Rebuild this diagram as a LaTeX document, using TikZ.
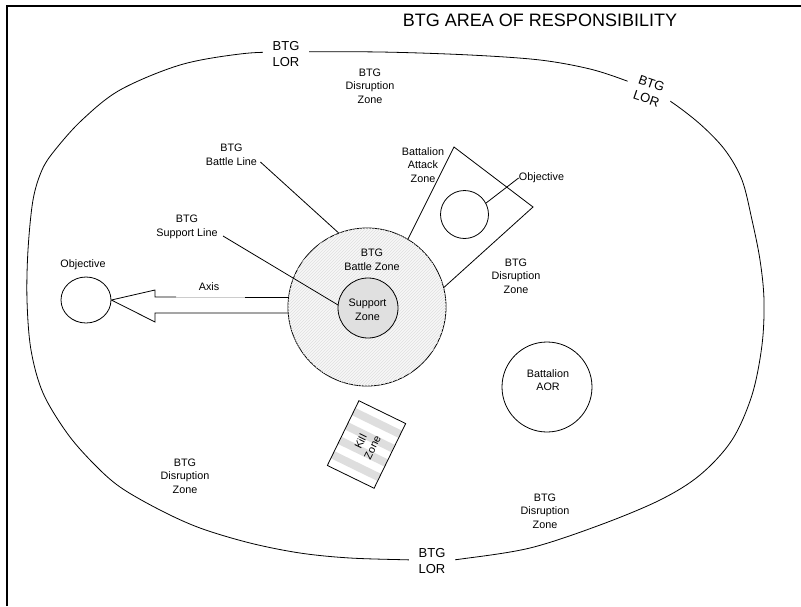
\documentclass[tikz,border=0pt]{standalone}
\usepackage{fontspec}
\setmainfont{Liberation Sans}
\usetikzlibrary{calc,patterns,shapes.geometric}
\begin{document}
\begin{tikzpicture}[x=1pt,y=-1pt, line width=0.8pt,
  lbl/.style={font=\fontsize{10.8}{13.5}\selectfont, align=center, inner sep=0pt},
  lor/.style={font=\fontsize{13}{16}\selectfont, align=center, fill=white, inner xsep=10pt, inner ysep=1pt},
  zone/.style={circle, draw, inner sep=0pt},
  stripe/.style={fill=black!13}
]
\useasboundingbox (0,0) rectangle (801,606);
% frame
\draw[line width=2pt] (7,606) -- (7,6) -- (801,6);
% title
\node[font=\fontsize{18}{20}\selectfont, inner sep=0pt] (title) at (540,20) {BTG AREA OF RESPONSIBILITY};
% outline of the area
\draw plot[smooth cycle, tension=0.55] coordinates {
 (286,52) (380,52) (470,55) (540,60) (590,69) (627,81) (650,91) (670,101)
 (700,124) (725,150) (742,180) (752,220) (760,260) (764,300) (762,345)
 (752,395) (732,440) (700,475) (660,500) (600,525) (530,548) (461,559)
 (437,561) (413,560) (350,558) (300,553) (250,543) (200,528) (160,510)
 (120,487) (93,463) (67,433) (43,393) (31,350) (27,300) (28,250) (33,200)
 (42,170) (55,150) (82,120) (120,90) (180,65) (240,54)};
\node[lor] (lor1) at (286,54) {BTG\\LOR};
\node[lor, rotate=-19] (lor2) at (649,91) {BTG\\LOR};
\node[lor] (lor3) at (432,561) {BTG\\LOR};
% disruption zones
\node[lbl] (dz1) at (370,86) {BTG\\Disruption\\Zone};
\node[lbl] (dz2) at (516,276) {BTG\\Disruption\\Zone};
\node[lbl] (dz3) at (185,476) {BTG\\Disruption\\Zone};
\node[lbl] (dz4) at (545,511) {BTG\\Disruption\\Zone};
% axis arrow and left objective
\node[ellipse, draw, minimum width=50, minimum height=46, inner sep=0pt] (lo) at (86,300) {};
\node[lbl] (lot) at (83,265) {Objective};
\coordinate (h1) at (155,290);
\coordinate (h2) at (155,297);
\coordinate (h3) at (155,313);
\coordinate (h4) at (155,322);
\coordinate (g1) at (176,297);
\coordinate (g2) at (245,297);
\coordinate (s1) at (300,297);
\coordinate (s2) at (300,313);
\draw (lo.east) -- (h1) -- (h2) -- (g1);
\draw[black!20] (g1) -- (g2);
\draw (g2) -- (s1);
\draw (s2) -- (h3) -- (h4) -- (lo.east);
\node[lbl] (axis) at (209,287) {Axis};
% attack zone
\coordinate (a1) at (454,147);
\coordinate (a2) at (533,207);
\coordinate (a0) at (400,255);
\coordinate (a3) at (430,300);
\draw ($(a1)!1.2!(a0)$) -- (a1) -- (a2) -- (a3);
\node[zone, minimum size=48] (ao) at (464.5,214.5) {};
\node[lbl] (aot) at (541.5,178) {Objective};
\draw (ao.28) -- (aot.west);
\node[lbl] (azt) at (423,165) {Battalion\\Attack\\Zone};
% battle zone
\node[zone, minimum size=158, fill=black!3, postaction={pattern=north east lines, pattern color=black!12}] (bz) at (367,307) {};
\node[lbl] (bzt) at (372,260) {BTG\\Battle Zone};
% leader lines
\node[lbl] (blt) at (231.5,155) {BTG\\Battle Line};
\node[lbl] (slt) at (187,227) {BTG\\Support Line};
\draw ($(blt.east)+(3,7)$) -- (bz.111);
\node[zone, minimum size=60, fill=black!12] (sz) at (368,308) {};
\draw ($(slt.east)+(5,9)$) -- (sz.174);
\node[lbl] (szt) at (367.5,310) {Support\\Zone};
% battalion AOR
\node[zone, minimum size=90] (aor) at (547,387) {};
\node[lbl] (aort) at (548,380) {Battalion\\AOR};
% kill zone
\begin{scope}[shift={(366.5,444.5)}, rotate=-26]
  \foreach \i in {1,3,5,7} {\fill[stripe] (-26,-36+8*\i) rectangle (26,-28+8*\i);}
\end{scope}
\node[draw, minimum width=52, minimum height=72, inner sep=0pt, rotate=-26] (kz) at (366.5,444.5) {};
\node[lbl, rotate=64] (kzt1) at (360.5,441.5) {Kill};
\node[lbl, rotate=64] (kzt2) at (372.5,447.5) {Zone};
\end{tikzpicture}
\end{document}
